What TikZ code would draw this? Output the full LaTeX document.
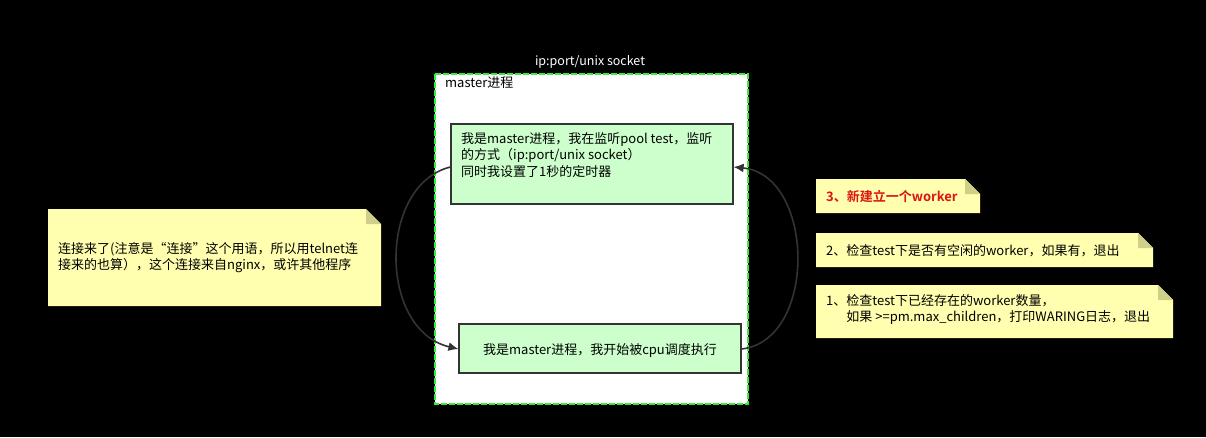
\documentclass[tikz,border=0pt]{standalone}
\usepackage{fontspec}
\setmainfont{Noto Sans CJK SC}
\newfontfamily\cjkbold[BoldFont={Noto Sans CJK SC Bold}]{Noto Sans CJK SC}
\usetikzlibrary{arrows.meta}
\definecolor{bgblack}{HTML}{000000}
\definecolor{procgreen}{HTML}{CCFFCC}
\definecolor{notey}{HTML}{FFFFAF}
\definecolor{notefold}{HTML}{CFCF88}
\definecolor{edgegray}{HTML}{333333}
\definecolor{dashgreen}{HTML}{33EE33}
\definecolor{notered}{HTML}{DC1414}
\tikzset{
  px/.style={x=1pt,y=-1pt},
  procbox/.style={draw=edgegray,line width=1.2pt,fill=procgreen,inner sep=0pt},
  txt/.style={font=\fontsize{13}{16.5}\selectfont,text=black,inner sep=0pt},
  conn/.style={draw=edgegray,line width=1.6pt,-{Latex[length=10pt,width=9pt]}},
}
\newcommand{\notebox}[5]{% x0,y0,x1,y1,name
  \fill[notey] (#1,#2) -- ({#3-15},#2) -- (#3,{#2+15}) -- (#3,#4) -- (#1,#4) -- cycle;
  \fill[notefold] ({#3-15},#2) -- ({#3-15},{#2+15}) -- (#3,{#2+15}) -- cycle;
  \coordinate (#5) at ({(#1+#3)/2},{(#2+#4)/2});
}
\begin{document}
\begin{tikzpicture}[px]
\fill[bgblack] (0,0) rectangle (1206,437);
\useasboundingbox (0,0) rectangle (1206,437);
% master container
\draw[dashgreen,fill=white,line width=1.2pt,dash pattern=on 6pt off 2pt] (435,74) rectangle (748,404);
\node[txt,anchor=west] (mlabel) at (445,83) {master进程};
\node[txt,font=\fontsize{12.5}{15}\selectfont,text=white,anchor=center] (socklabel) at (590,62) {ip:port/unix socket};
% process boxes
\node[procbox,minimum width=282pt,minimum height=80pt] (p1) at (592,164) {};
\node[txt,anchor=north west,align=left] (p1t) at (461,132) {我是master进程，我在监听pool test，监听\\的方式（ip:port/unix socket）\\同时我设置了1秒的定时器};
\node[procbox,minimum width=282pt,minimum height=49pt] (p2) at (600,348.5) {};
\node[txt] (p2t) at (600,350) {我是master进程，我开始被cpu调度执行};
% connectors
\draw[conn] (p1.west|-0,167) .. controls (378,185) and (378,330) .. (p2.west|-0,349);
\draw[conn] (p2.east|-0,349) .. controls (818,340) and (815,175) .. (p1.east|-0,167);
% notes
\notebox{48}{209}{381}{306}{n0}
\node[txt,anchor=north west,align=left] (n0t) at (58,242) {连接来了(注意是“连接”这个用语，所以用telnet连\\接来的也算），这个连接来自nginx，或许其他程序};
\notebox{816}{179}{980}{213}{n3}
\node[txt,anchor=west,text=notered,font=\cjkbold\bfseries\fontsize{13}{16}\selectfont] (n3t) at (826,196) {3、新建立一个worker};
\notebox{816}{233}{1153}{267}{n2}
\node[txt,anchor=west] (n2t) at (826,251) {2、检查test下是否有空闲的worker，如果有，退出};
\notebox{816}{285}{1173}{338}{n1}
\node[txt,anchor=north west,align=left] (n1t) at (826,294) {1、检查test下已经存在的worker数量，\\\phantom{1、}如果 >=pm.max\_children，打印WARING日志，退出};
\end{tikzpicture}
\end{document}
